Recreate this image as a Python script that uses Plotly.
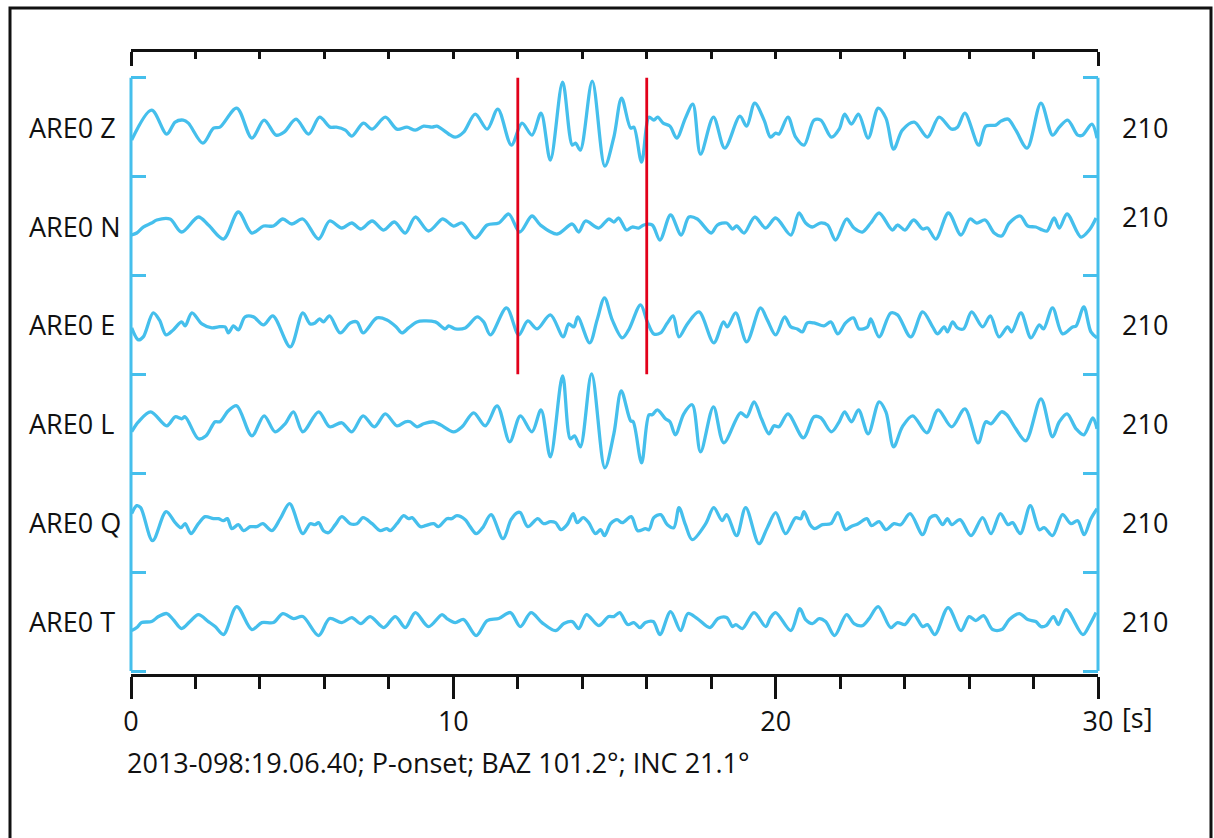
import plotly.graph_objects as go

# ---------------- data ----------------
components = ["Z", "N", "E", "L", "Q", "T"]
station = "ARE0"
scale_labels = ["210", "210", "210", "210", "210", "210"]
picks = [12.0, 16.0]          # red markers [s]
x_ticks = [0, 10, 20, 30]
footnote = "2013-098:19.06.40; P-onset; BAZ 101.2°; INC 21.1°"

t_Z = [0.02, 0.64, 1.11, 1.37, 1.62, 1.78, 2.23, 2.56, 2.76, 3.28, 3.75, 4.13, 4.50, 4.75, 5.12, 5.51, 5.85, 6.18, 6.37, 6.65,
       6.85, 7.21, 7.48, 7.89, 8.25, 8.56, 8.82, 9.08, 9.34, 9.49, 9.91, 10.06, 10.32, 10.68, 11.05, 11.38, 11.80, 12.13, 12.44, 12.72,
       13.01, 13.39, 13.69, 13.79, 13.94, 14.31, 14.70, 14.98, 15.22, 15.50, 15.60, 15.84, 16.07, 16.22, 16.34, 16.51, 16.72, 16.93, 17.20, 17.43,
       17.67, 18.07, 18.42, 18.89, 19.10, 19.35, 19.64, 19.84, 20.00, 20.10, 20.38, 20.62, 20.88, 21.19, 21.40, 21.73, 21.97, 22.14, 22.35, 22.57,
       22.87, 23.18, 23.42, 23.66, 23.93, 24.30, 24.71, 25.07, 25.46, 25.64, 25.87, 26.30, 26.52, 26.83, 26.99, 27.21, 27.45, 27.80, 28.23, 28.59,
       28.80, 29.06, 29.37, 29.52, 29.81, 29.97]
a_Z = [-13, 17, -7, 5, 7, 4, -16, -1, 0, 19, -11, 7, -8, -5, 8, -7, 10, 0, 0, -3,
       -9, 4, -2, 10, -2, 0, -3, 1, 0, 1, -8, -10, -5, 13, -2, 18, -18, 4, -8, 14,
       -33, 45, -18, -16, -23, 46, -39, -10, 29, -1, 0, -35, 10, 7, 10, 4, 1, -11, 9, 23,
       -27, 10, -21, 11, 1, 24, 7, -10, -6, -7, 10, -10, -18, 7, 7, -10, -2, 13, 3, 13,
       -11, 19, 9, -22, -3, 5, -10, 10, -2, 0, 14, -18, 1, 2, 6, 8, -3, -21, 24, -8,
       0, 7, -8, -8, 3, -11]

t_N = [0.02, 0.18, 0.38, 0.64, 0.80, 1.21, 1.57, 2.09, 2.40, 2.87, 3.33, 3.75, 4.11, 4.42, 4.71, 4.99, 5.33, 5.82, 6.16, 6.54,
       6.85, 7.13, 7.48, 7.84, 8.17, 8.51, 8.82, 9.23, 9.65, 9.75, 10.01, 10.27, 10.68, 11.05, 11.41, 11.72, 12.06, 12.44, 12.70, 13.22,
       13.69, 13.89, 14.10, 14.51, 14.82, 14.98, 15.13, 15.37, 15.55, 15.75, 15.91, 16.17, 16.41, 16.74, 17.07, 17.31, 17.57, 18.00, 18.19, 18.48,
       18.66, 18.79, 19.02, 19.35, 19.69, 20.00, 20.47, 20.72, 20.93, 21.14, 21.38, 21.61, 21.86, 22.20, 22.43, 22.69, 22.95, 23.21, 23.62, 23.78,
       24.01, 24.28, 24.56, 24.71, 24.97, 25.36, 25.75, 26.03, 26.24, 26.50, 26.78, 27.01, 27.25, 27.59, 27.82, 28.07, 28.28, 28.42, 28.64, 28.80,
       29.04, 29.47, 29.73, 29.94]
a_N = [-9, -7, -1, 3, 6, 7, -6, 9, 1, -13, 14, -7, 0, 0, 7, 2, 7, -13, 5, -2,
       3, -3, 5, -4, 4, -7, 9, -5, 7, 6, 0, 3, -12, 1, 3, 12, -6, 10, 1, -8,
       2, -6, 5, -2, 7, 4, 8, -4, -1, -2, 1, 1, -14, 11, -9, 9, 7, -7, 1, 3,
       -3, 0, -7, 9, -2, 8, -9, 13, 3, -1, 3, 1, -14, 7, -2, -6, 3, 13, -4, 1,
       -4, 6, -3, -2, -13, 13, -9, 7, 3, 6, -7, -10, 3, 10, 0, -1, -4, -5, 8, -2,
       12, -11, -4, 8]

t_E = [0.02, 0.23, 0.38, 0.69, 0.88, 1.09, 1.31, 1.57, 1.68, 1.89, 2.20, 2.51, 2.71, 2.92, 3.02, 3.18, 3.33, 3.54, 3.80, 4.11,
       4.40, 4.94, 5.33, 5.56, 5.71, 5.85, 5.97, 6.16, 6.49, 6.80, 7.01, 7.20, 7.63, 7.94, 8.23, 8.41, 8.61, 8.87, 9.08, 9.44,
       9.75, 9.85, 10.06, 10.37, 10.74, 10.94, 11.15, 11.65, 12.03, 12.31, 12.60, 13.01, 13.41, 13.58, 13.74, 13.86, 14.23, 14.46, 14.69, 14.93,
       15.24, 15.44, 15.81, 16.02, 16.22, 16.43, 16.64, 16.82, 17.00, 17.26, 17.62, 18.08, 18.38, 18.50, 18.76, 19.10, 19.53, 19.74, 20.00, 20.28,
       20.47, 20.67, 20.83, 20.98, 21.19, 21.50, 21.71, 21.93, 22.17, 22.41, 22.59, 22.85, 22.95, 23.21, 23.57, 23.78, 24.19, 24.56, 24.87, 25.02,
       25.23, 25.33, 25.49, 25.64, 25.83, 26.08, 26.42, 26.66, 26.93, 27.20, 27.32, 27.61, 27.92, 28.18, 28.31, 28.59, 28.90, 29.21, 29.32, 29.56,
       29.78, 29.97]
a_E = [-3, -15, -12, 12, 5, -10, -5, 3, -1, 12, 1, -3, -2, -2, -8, -1, -5, 8, 8, 0,
       9, -22, 12, 1, 2, 6, 3, 9, -8, 2, 3, -8, 7, 5, -2, -8, -3, 3, 4, 3,
       -4, -1, -4, -3, 8, 3, -10, 17, -10, 4, -4, 10, -12, 1, -2, 8, -18, 5, 27, 5,
       -13, -5, 20, 3, -9, -8, 2, 9, -12, 1, 13, -18, 3, -2, 12, -17, 17, 5, -10, 8,
       -2, -4, -7, 2, 2, -1, 3, -9, 2, 7, -4, -2, 6, -12, 12, 10, -12, 13, -2, -9,
       -2, -7, 3, -3, -4, 13, -2, 9, -12, -2, -7, 12, -13, 0, -4, 17, -9, -2, -1, 18,
       -7, -13]

t_L = [0.02, 0.23, 0.61, 1.11, 1.37, 1.57, 1.68, 2.09, 2.33, 2.61, 2.76, 3.02, 3.28, 3.75, 4.13, 4.47, 4.78, 5.04, 5.33, 5.82,
       6.16, 6.54, 6.85, 7.20, 7.55, 7.89, 8.25, 8.51, 8.66, 8.87, 9.08, 9.39, 9.60, 10.01, 10.27, 10.63, 10.99, 11.36, 11.75, 12.08,
       12.44, 12.72, 13.01, 13.39, 13.63, 13.76, 13.94, 14.29, 14.70, 14.98, 15.21, 15.50, 15.58, 15.84, 16.07, 16.17, 16.33, 16.58, 16.72, 16.89,
       17.15, 17.41, 17.67, 18.07, 18.39, 18.91, 19.10, 19.33, 19.56, 19.79, 19.95, 20.10, 20.38, 20.86, 21.19, 21.40, 21.73, 21.97, 22.14, 22.35,
       22.57, 22.87, 23.21, 23.42, 23.66, 23.93, 24.25, 24.69, 25.04, 25.46, 25.87, 26.28, 26.52, 26.68, 27.01, 27.17, 27.45, 27.76, 28.23, 28.59,
       28.80, 29.04, 29.32, 29.56, 29.84, 29.97]
a_L = [-8, 2, 12, -2, 7, 5, 7, -15, -12, 2, 2, 13, 18, -12, 8, -8, 0, 12, -8, 12,
       -3, 1, -8, 8, -3, 10, -2, 2, 2, -3, 0, 2, -1, -8, -3, 11, -2, 18, -18, 8,
       -8, 14, -33, 48, -15, -12, -23, 50, -44, -10, 33, 3, 2, -39, 9, 9, 14, 5, 2, -11,
       10, 19, -28, 17, -19, 11, 7, 22, 5, -10, -2, -3, 10, -14, 7, 6, -8, 2, 12, 2,
       14, -10, 22, 12, -23, -3, 8, -9, 14, -3, 15, -19, 2, 0, 12, 9, -5, -17, 25, -13,
       2, 10, -5, -11, 6, -5]

t_Q = [0.02, 0.18, 0.30, 0.67, 1.09, 1.37, 1.55, 1.68, 1.86, 2.09, 2.30, 2.56, 2.71, 2.87, 2.99, 3.13, 3.33, 3.49, 3.70, 3.90,
       4.09, 4.37, 4.63, 4.92, 5.33, 5.56, 5.71, 5.82, 5.97, 6.13, 6.34, 6.54, 6.80, 7.01, 7.20, 7.48, 7.73, 7.94, 8.04, 8.25,
       8.46, 8.61, 8.72, 8.98, 9.13, 9.39, 9.54, 9.80, 9.95, 10.11, 10.37, 10.48, 10.71, 10.91, 11.17, 11.54, 11.79, 11.98, 12.08, 12.31,
       12.62, 12.80, 13.01, 13.17, 13.34, 13.53, 13.72, 13.84, 14.03, 14.20, 14.41, 14.57, 14.69, 14.88, 15.08, 15.24, 15.52, 15.72, 15.96, 16.07,
       16.22, 16.43, 16.64, 16.84, 17.00, 17.20, 17.41, 17.83, 18.08, 18.34, 18.48, 18.79, 19.07, 19.48, 19.74, 20.00, 20.31, 20.62, 20.78, 20.88,
       21.07, 21.21, 21.45, 21.71, 21.93, 22.17, 22.33, 22.56, 22.83, 22.97, 23.21, 23.42, 23.67, 23.88, 24.17, 24.56, 24.79, 24.97, 25.18, 25.33,
       25.46, 25.72, 26.06, 26.42, 26.68, 26.97, 27.21, 27.35, 27.59, 27.90, 28.18, 28.33, 28.59, 28.90, 29.16, 29.37, 29.57, 29.78, 29.97]
a_Q = [9, 17, 15, -18, 11, 0, -5, -1, -11, -1, 6, 4, 4, 2, 4, -6, -2, -8, -4, -4,
       -1, -8, 4, 19, -11, -1, -2, 0, -8, -10, -2, 6, -1, -1, 5, -1, -8, -6, -8, -1,
       7, 4, 5, -4, -3, -1, -4, 4, 4, 7, 3, -2, -11, -5, 8, -16, 3, 10, 10, -4,
       4, -1, 1, 0, -7, -2, 9, 0, 5, 0, -11, -7, -13, -1, 3, 0, 6, -8, -6, -7,
       5, 8, -2, -5, 15, -2, -17, -1, 15, 2, 8, -13, 15, -21, -5, 10, -11, 5, 4, 11,
       -2, -6, -2, -1, 10, -7, -4, -1, 4, -3, 1, -7, -1, -2, 9, -12, 5, 7, -2, 4,
       -2, 3, -13, 5, -11, 9, -2, 0, -11, 17, -7, -5, -13, 8, -1, 2, -12, 4, 14]

t_T = [0.02, 0.18, 0.33, 0.64, 0.85, 1.11, 1.31, 1.57, 1.83, 2.09, 2.40, 2.61, 2.87, 3.28, 3.75, 4.06, 4.42, 4.71, 5.04, 5.33,
       5.82, 6.16, 6.54, 6.85, 7.13, 7.42, 7.84, 8.20, 8.51, 8.82, 9.23, 9.65, 9.80, 10.06, 10.32, 10.71, 11.05, 11.41, 11.77, 12.08,
       12.41, 12.75, 13.17, 13.43, 13.69, 13.89, 14.13, 14.51, 14.82, 14.98, 15.16, 15.41, 15.60, 15.79, 15.96, 16.20, 16.41, 16.74, 17.05, 17.28,
       17.57, 17.96, 18.21, 18.48, 18.66, 18.76, 18.97, 19.33, 19.69, 19.84, 20.00, 20.47, 20.75, 20.93, 21.14, 21.35, 21.55, 21.83, 22.20, 22.43,
       22.69, 22.90, 23.18, 23.57, 23.78, 24.01, 24.28, 24.56, 24.71, 24.94, 25.35, 25.75, 26.00, 26.21, 26.45, 26.73, 27.01, 27.25, 27.56, 27.82,
       28.07, 28.23, 28.39, 28.62, 28.77, 29.01, 29.53, 29.73, 29.94]
a_T = [-9, -6, -1, 0, 5, 8, 2, -7, 0, 7, 0, -5, -13, 15, -8, -1, -1, 8, 3, 5,
       -14, 3, -1, 4, -2, 5, -6, 5, -6, 9, -5, 7, 3, -1, 2, -14, 1, 3, 9, -5,
       9, -1, -9, -2, 0, -7, 7, -4, 5, 5, 9, -3, -1, -6, -1, 0, -13, 10, -9, 8,
       3, -6, 3, 4, -5, -3, -7, 9, -5, 4, 9, -9, 13, 2, -2, 3, 0, -14, 7, -2,
       -4, 3, 15, -6, -1, -3, 7, -5, -3, -13, 14, -9, 5, 1, 6, -8, -8, 2, 8, 2,
       0, -5, -4, 5, -3, 12, -13, -4, 9]

times = [t_Z, t_N, t_E, t_L, t_Q, t_T]
amps = [a_Z, a_N, a_E, a_L, a_Q, a_T]

# ---------------- styling ----------------
CYAN = "#45BFEC"
RED = "#E2001A"
INK = "#111111"
FONT = "Open Sans"
FS = 27
n = len(components)
row_center = [n - 0.5 - i for i in range(n)]

# layout geometry (pixels)
W, H = 1214, 838
L, R, T, B = 131, 116, 50, 164
pw, ph = W - L - R, H - T - B
def px(xp):
    return (xp - L) / pw
def py(yp):
    return (H - B - yp) / ph

row_px = (671 - 77.7) / n                 # pixel height of one trace row
amp_scale = 1 / row_px                    # counts -> row units
y_range = [-(H - B - 671) / row_px, n + (77.7 - T) / row_px]
t_range = [0, 30]

fig = go.Figure()
for i, comp in enumerate(components):
    fig.add_trace(go.Scatter(
        x=times[i], y=[row_center[i] + a * amp_scale for a in amps[i]],
        mode="lines", line=dict(color=CYAN, width=3.3, shape="spline", smoothing=0.9),
        hoverinfo="skip", showlegend=False, xaxis="x", yaxis="y"))

# pick markers, spanning the Z, N and E rows (drawn in the twin subplot: top time axis + right bracket)
for p in picks:
    fig.add_trace(go.Scatter(
        x=[p, p], y=[n, n - 3], mode="lines", line=dict(color=RED, width=2.8),
        hoverinfo="skip", showlegend=False, xaxis="x2", yaxis="y2"))

axis_common = dict(showgrid=False, zeroline=False)
ytick_style = dict(ticks="inside", tickvals=list(range(n + 1)), ticklen=15, tickwidth=3,
                   tickcolor=CYAN, showticklabels=False, showline=False)
fig.update_layout(
    width=W, height=H,
    margin=dict(l=L, r=R, t=T, b=B, pad=0),
    paper_bgcolor="white", plot_bgcolor="rgba(0,0,0,0)",
    font=dict(family=FONT, size=FS, color=INK),
    xaxis=dict(range=t_range, domain=[0, 1], anchor="y", side="bottom",
               showline=True, linecolor=INK, linewidth=3,
               ticks="outside", tickvals=x_ticks, ticktext=[str(v) for v in x_ticks],
               ticklen=22, tickwidth=3, tickcolor=INK,
               ticklabelstandoff=0,
               minor=dict(dtick=2, tick0=0, ticks="outside", ticklen=12, tickwidth=3, tickcolor=INK),
               tickfont=dict(family=FONT, size=FS, color=INK), **axis_common),
    yaxis=dict(range=y_range, domain=[0, 1], anchor="x", side="left", **ytick_style, **axis_common),
    # twin subplot sharing the same area: top time axis (ticks hanging down) and right amplitude bracket
    xaxis2=dict(range=t_range, domain=[0, 1], side="bottom", anchor="free", position=1,
                showline=True, linecolor=INK, linewidth=3,
                ticks="outside", tickvals=[t_range[0], t_range[1]], ticklen=14, tickwidth=3, tickcolor=INK,
                minor=dict(dtick=2, tick0=0, ticks="outside", ticklen=7, tickwidth=3, tickcolor=INK),
                showticklabels=False, **axis_common),
    yaxis2=dict(range=y_range, domain=[0, 1], anchor="x2", side="right", **ytick_style, **axis_common),
)

# cyan amplitude brackets (axis spines limited to the trace rows)
for xe in (0, 1):
    fig.add_shape(type="line", xref="paper", yref="y", x0=xe, x1=xe, y0=0, y1=n,
                  line=dict(color=CYAN, width=3), layer="above")

ann = []
for i, comp in enumerate(components):
    ann.append(dict(x=px(27), xref="paper", y=row_center[i], yref="y", text=f"{station} {comp}",
                    showarrow=False, xanchor="left", yanchor="middle", font=dict(size=FS)))
    ann.append(dict(x=px(1120), xref="paper", y=row_center[i], yref="y", text=scale_labels[i],
                    showarrow=False, xanchor="left", yanchor="middle", font=dict(size=FS),
                    yshift=10 if comp == "N" else 0))
ann.append(dict(x=px(1120), xref="paper", y=py(717), yref="paper", text="[s]",
                showarrow=False, xanchor="left", yanchor="middle", font=dict(size=FS)))
ann.append(dict(x=px(125), xref="paper", y=py(762), yref="paper", text=footnote,
                showarrow=False, xanchor="left", yanchor="middle", font=dict(size=FS)))
fig.update_layout(annotations=ann)

# outer frame
fig.add_shape(type="rect", xref="paper", yref="paper",
              x0=px(10), x1=px(1211), y0=py(860), y1=py(8),
              line=dict(color=INK, width=3), fillcolor="rgba(0,0,0,0)", layer="below")

fig.write_html("out.html")
